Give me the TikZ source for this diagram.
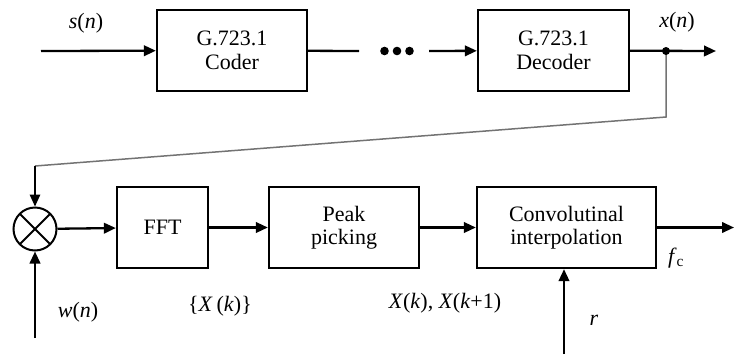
\documentclass[tikz,border=0pt]{standalone}
\usepackage{fontspec}
\setmainfont{Liberation Serif}
\usetikzlibrary{arrows.meta}
\newcommand\vi[1]{\textit{#1}}
\begin{document}
\begin{tikzpicture}[x=1pt,y=-1pt,
  txt/.style={font=\fontsize{22}{23.5}\selectfont},
  blk/.style={draw,line width=2.3pt,minimum height=81pt,align=center,inner sep=0pt,txt},
  tip/.style={-{Triangle[length=12pt,width=10.5pt]}},
  arr/.style={line width=2.3pt,tip},
  ln/.style={line width=2.3pt},
  fb/.style={line width=1.5pt,draw=black!55},
  lbl/.style={inner sep=0pt,txt}]
\useasboundingbox (0,0) rectangle (734,354);
% top row
\node[blk,minimum width=150pt] (coder) at (232,50.5) {G.723.1\\Coder};
\node[blk,minimum width=151pt] (decoder) at (553.5,50.5) {G.723.1\\Decoder};
\coordinate (sin) at (41,51);
\coordinate (cend) at (359,51);
\coordinate (dstart) at (429,51);
\coordinate (xout) at (716,51);
\coordinate (j) at (666,51);
\fill (384.5,51) circle (4.3pt) (397,51) circle (4.3pt) (409.5,51) circle (4.3pt);
\draw[arr] (sin) -- (coder);
\draw[ln] (coder) -- (cend);
\draw[arr] (dstart) -- (decoder);
\draw[arr] (decoder) -- (xout);
\node[lbl] (sn) at (86,23) {\vi{s}(\vi{n})};
\node[lbl] (xn) at (677,22) {\vi{x}(\vi{n})};
% bottom row
\node[draw,circle,line width=2pt,minimum size=43pt,inner sep=0pt,
  path picture={\draw[line width=2pt]
    (path picture bounding box.north west) -- (path picture bounding box.south east)
    (path picture bounding box.north east) -- (path picture bounding box.south west);}]
  (mult) at (35,229) {};
\node[blk,minimum width=91pt] (fft) at (162.5,227.5) {FFT};
\node[blk,minimum width=150pt] (peak) at (344,227.5) {Peak\\picking};
\node[blk,minimum width=179pt] (conv) at (566.5,227.5) {Convolutinal\\interpolation};
\coordinate (c1) at (666,117);
\coordinate (c2) at (35,166);
\coordinate (win) at (35,338);
\coordinate (fout) at (734,227.5);
\coordinate (rin) at (564,354);
\draw[fb] (j) -- (c1) -- (c2);
\draw[line width=1.5pt,tip] (c2) -- (mult);
\fill (j) circle (4pt);
\draw[arr] (win) -- (mult);
\draw[arr] (mult) -- (fft);
\draw[arr] (fft) -- (peak);
\draw[arr] (peak) -- (conv);
\draw[arr] (conv) -- (fout);
\draw[arr] (rin) -- (rin |- conv.south);
\node[lbl] (wn) at (78,312) {\vi{w}(\vi{n})};
\node[lbl] (xk) at (220,306) {\{\vi{X}\,(\vi{k})\}};
\node[lbl] (xk1) at (445,303) {\vi{X}(\vi{k}), \vi{X}(\vi{k}+1)};
\node[lbl] (r) at (594,320) {\vi{r}};
\node[lbl] (fc) at (676,258) {\vi{f}\textsubscript{c}};
\end{tikzpicture}
\end{document}
